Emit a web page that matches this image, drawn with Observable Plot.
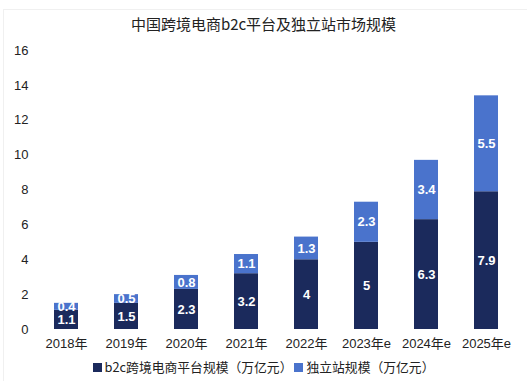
<!DOCTYPE html>
<html>
<head>
<meta charset="utf-8">
<script src="https://cdn.jsdelivr.net/npm/d3@7"></script>
<script src="https://cdn.jsdelivr.net/npm/@observablehq/plot@0.6"></script>
<style>
  html, body { margin: 0; padding: 0; background: #fff; }
  body { width: 527px; height: 381px; overflow: hidden; font-family: "Noto Sans CJK SC", "Noto Sans", sans-serif; color: #222; }
  #card { position: absolute; left: 3px; top: 9px; width: 540px; height: 400px; border: 1px solid #f0f0f0; box-sizing: border-box; }
  #title { position: absolute; left: 0; top: 13px; width: 527px; text-align: center; font-size: 15px; font-weight: 400; color: #222; }
  #chart { position: absolute; left: 0; top: 40px; }
  #legend { position: absolute; left: 0; top: 357px; width: 527px; text-align: center; font-size: 12.8px; color: #222; }
  .sw { display: inline-block; width: 9px; height: 9px; margin-right: 3px; vertical-align: 0px; }
  .item { margin: 0 1px; }
</style>
</head>
<body>
<div id="card"></div>
<div id="title">中国跨境电商b2c平台及独立站市场规模</div>
<div id="chart"></div>
<div id="legend"></div>
<script>
const years = ["2018年", "2019年", "2020年", "2021年", "2022年", "2023年e", "2024年e", "2025年e"];
const b2cValues = [1.1, 1.5, 2.3, 3.2, 4, 5, 6.3, 7.9];
const independentValues = [0.4, 0.5, 0.8, 1.1, 1.3, 2.3, 3.4, 5.5];
const seriesNames = ["b2c跨境电商平台规模（万亿元）", "独立站规模（万亿元）"];
const seriesColors = ["#1b2a5c", "#4a73cc"];
const yTicks = [0, 2, 4, 6, 8, 10, 12, 14, 16];

const data = years.flatMap((year, i) => [
  {year, series: seriesNames[0], value: b2cValues[i]},
  {year, series: seriesNames[1], value: independentValues[i]}
]);

const chart = Plot.plot({
  width: 527,
  height: 318,
  marginLeft: 36,
  marginRight: 11,
  marginTop: 10,
  marginBottom: 29,
  style: {fontSize: "13px", fontFamily: "'Liberation Sans', 'Noto Sans CJK SC', sans-serif", color: "#222", background: "transparent"},
  x: {domain: years, paddingInner: 0.6, paddingOuter: 0.3, label: null, tickSize: 0, tickPadding: 9},
  y: {domain: [0, 16], ticks: yTicks, label: null, tickSize: 0, tickPadding: 8},
  color: {domain: seriesNames, range: seriesColors},
  marks: [
    Plot.gridY(yTicks, {stroke: "#e4e4e4", strokeOpacity: 1, x1: 36, x2: 512}),
    Plot.barY(data, {x: "year", y: "value", fill: "series"}),
    Plot.text(data, Plot.stackY({
      x: "year", y: "value", z: "series",
      text: d => String(d.value),
      fill: "white", fontWeight: "bold", fontSize: 13
    }))
  ]
});
document.getElementById("chart").appendChild(chart);

const legend = document.getElementById("legend");
seriesNames.forEach((name, i) => {
  const item = document.createElement("span");
  item.className = "item";
  const sw = document.createElement("span");
  sw.className = "sw";
  sw.style.background = seriesColors[i];
  item.appendChild(sw);
  item.appendChild(document.createTextNode(name));
  legend.appendChild(item);
});
</script>
</body>
</html>
